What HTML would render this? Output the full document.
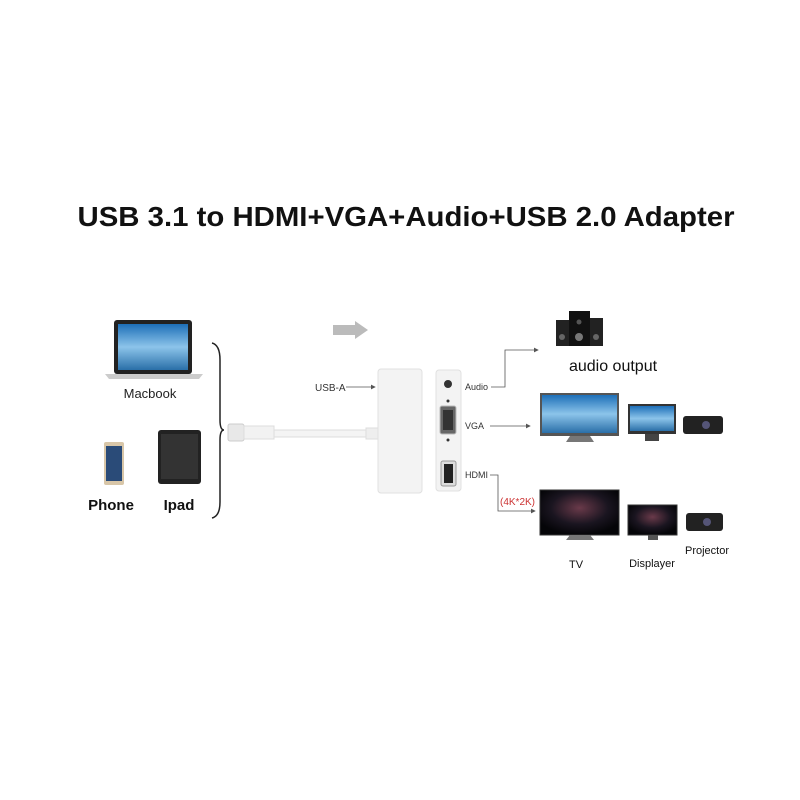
<!DOCTYPE html>
<html><head><meta charset="utf-8"><style>body{margin:0;background:#fff}svg{display:block}</style></head><body>
<svg width="800" height="800" viewBox="0 0 800 800" xmlns="http://www.w3.org/2000/svg" font-family="Liberation Sans, sans-serif">
<defs>
<linearGradient id="sky" x1="0" y1="0" x2="0" y2="1"><stop offset="0" stop-color="#1d6fb8"/><stop offset="0.5" stop-color="#8cc4ea"/><stop offset="1" stop-color="#2a6fa8"/></linearGradient>
<radialGradient id="space" cx="0.5" cy="0.4" r="0.6"><stop offset="0" stop-color="#6a3a4a"/><stop offset="0.6" stop-color="#1a1520"/><stop offset="1" stop-color="#050508"/></radialGradient>
<marker id="a" markerWidth="6" markerHeight="6" refX="5" refY="3" orient="auto"><path d="M0,0 L6,3 L0,6z" fill="#555"/></marker>
</defs>
<text x="406" y="226" text-anchor="middle" font-size="28" font-weight="bold" textLength="657" lengthAdjust="spacingAndGlyphs" fill="#111">USB 3.1 to HDMI+VGA+Audio+USB 2.0 Adapter</text>
<!-- macbook -->
<rect x="114" y="320" width="78" height="54" rx="3" fill="#222"/>
<rect x="118" y="324" width="70" height="46" fill="url(#sky)"/>
<path d="M105,374 H203 L199,379 H109z" fill="#ccc"/>
<text x="150" y="398" text-anchor="middle" font-size="13" fill="#222">Macbook</text>
<!-- phone -->
<rect x="104" y="442" width="20" height="43" rx="2" fill="#d8c6a8"/>
<rect x="106" y="446" width="16" height="35" fill="#2a4b78"/>
<!-- ipad -->
<rect x="158" y="430" width="43" height="54" rx="3" fill="#222"/>
<rect x="161" y="434" width="37" height="45" fill="#333"/>
<text x="111" y="510" text-anchor="middle" font-size="15" font-weight="bold" fill="#111">Phone</text>
<text x="179" y="510" text-anchor="middle" font-size="15" font-weight="bold" fill="#111">Ipad</text>
<path d="M212,343 Q220,345 220,360 V420 Q220,430 224,430 Q220,430 220,440 V502 Q220,516 212,518" fill="none" stroke="#222" stroke-width="1.5"/>
<!-- gray arrow -->
<path d="M333,325 H355 V321 L368,330 L355,339 V335 H333z" fill="#bbb"/>
<!-- cable -->
<rect x="228" y="424" width="16" height="17" rx="2" fill="#e8e8e8" stroke="#ccc"/>
<rect x="244" y="426" width="30" height="13" fill="#f2f2f2" stroke="#ddd"/>
<rect x="274" y="430" width="100" height="7" fill="#f4f4f4" stroke="#ddd"/>
<rect x="366" y="428" width="12" height="11" fill="#eee" stroke="#ddd"/>
<!-- adapter -->
<rect x="378" y="369" width="44" height="124" rx="3" fill="#f3f3f3" stroke="#e0e0e0"/>
<rect x="436" y="370" width="25" height="121" rx="3" fill="#f3f3f3" stroke="#e0e0e0"/>
<circle cx="448" cy="384" r="4" fill="#333"/>
<circle cx="448" cy="401" r="1.5" fill="#333"/>
<rect x="440" y="406" width="16" height="28" rx="2" fill="#666" stroke="#bbb"/>
<rect x="443" y="410" width="10" height="20" fill="#333"/>
<circle cx="448" cy="440" r="1.5" fill="#333"/>
<rect x="441" y="461" width="15" height="25" rx="2" fill="#ddd" stroke="#999"/>
<rect x="444" y="464" width="9" height="19" fill="#222"/>
<text x="315" y="391" font-size="10" fill="#333">USB-A</text>
<line x1="346" y1="387" x2="375" y2="387" stroke="#555" stroke-width="0.8" marker-end="url(#a)"/>
<text x="465" y="390" font-size="9" fill="#333">Audio</text>
<polyline points="491,387 505,387 505,350 538,350" fill="none" stroke="#555" stroke-width="0.8" marker-end="url(#a)"/>
<text x="465" y="429" font-size="9" fill="#333">VGA</text>
<line x1="490" y1="426" x2="530" y2="426" stroke="#555" stroke-width="0.8" marker-end="url(#a)"/>
<text x="465" y="478" font-size="9" fill="#333">HDMI</text>
<polyline points="490,475 498,475 498,511 535,511" fill="none" stroke="#555" stroke-width="0.8" marker-end="url(#a)"/>
<text x="500" y="505" font-size="10" fill="#c33">(4K*2K)</text>
<!-- speakers -->
<rect x="556" y="320" width="17" height="26" fill="#222"/>
<rect x="586" y="318" width="17" height="28" fill="#222"/>
<rect x="569" y="311" width="21" height="35" fill="#111"/>
<circle cx="579" cy="337" r="4" fill="#777"/>
<circle cx="579" cy="322" r="2.5" fill="#555"/>
<circle cx="562" cy="337" r="3" fill="#666"/>
<circle cx="596" cy="337" r="3" fill="#666"/>
<text x="613" y="371" text-anchor="middle" font-size="16" fill="#111">audio output</text>
<!-- VGA row -->
<rect x="540" y="393" width="79" height="43" fill="#555"/>
<rect x="542" y="395" width="75" height="38" fill="url(#sky)"/>
<path d="M570,436 H590 L594,442 H566z" fill="#777"/>
<rect x="628" y="404" width="48" height="30" fill="#333"/>
<rect x="630" y="406" width="44" height="25" fill="url(#sky)"/>
<rect x="645" y="434" width="14" height="7" fill="#444"/>
<rect x="683" y="416" width="40" height="18" rx="3" fill="#222"/>
<circle cx="706" cy="425" r="4" fill="#557"/>
<!-- HDMI row -->
<rect x="540" y="490" width="79" height="45" fill="url(#space)" stroke="#333"/>
<path d="M570,535 H590 L594,540 H566z" fill="#777"/>
<rect x="628" y="505" width="49" height="30" fill="url(#space)" stroke="#333"/>
<rect x="648" y="535" width="10" height="5" fill="#555"/>
<rect x="686" y="513" width="37" height="18" rx="3" fill="#222"/>
<circle cx="707" cy="522" r="4" fill="#557"/>
<text x="576" y="568" text-anchor="middle" font-size="11" fill="#111">TV</text>
<text x="652" y="567" text-anchor="middle" font-size="11" fill="#111">Displayer</text>
<text x="707" y="554" text-anchor="middle" font-size="11" fill="#111">Projector</text>
</svg>
</body></html>
